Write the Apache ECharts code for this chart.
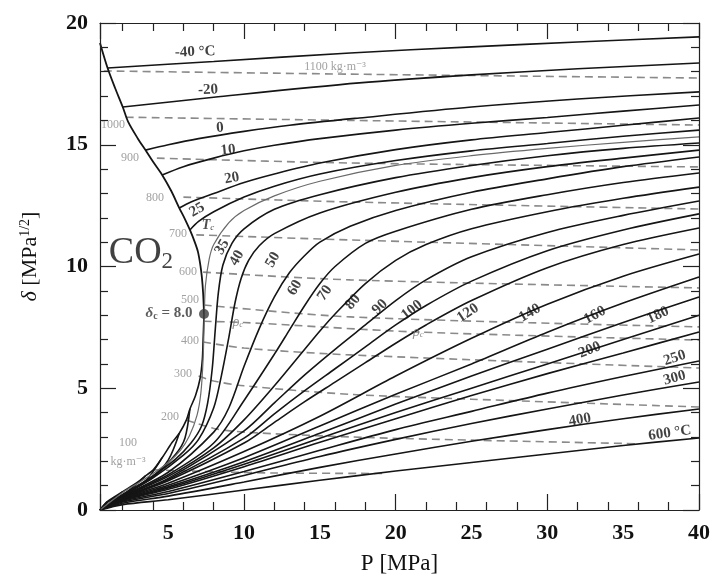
<!DOCTYPE html>
<html>
<head>
<meta charset="utf-8">
<title>CO2 solubility parameter</title>
<script src="https://cdn.jsdelivr.net/npm/echarts@6/dist/echarts.min.js"></script>
<style>
    html, body { margin: 0; padding: 0; background: #fff; }
    #main { width: 713px; height: 581px; }
</style>
</head>
<body>
<div id="main"></div>
<script>
// pressure axis labels
var xLabels = [5, 10, 15, 20, 25, 30, 35, 40];

// saturation curve  [P MPa, delta MPa^1/2]
var satLiquid = [[0.5, 19.18], [1.0, 18.15], [1.5, 17.32], [2.0, 16.55], [2.35, 15.95], [3.0, 15.25],
    [3.5, 14.78], [4.0, 14.3], [4.6, 13.76], [5.2, 13.1], [5.73, 12.4], [6.1, 11.95], [6.43, 11.5],
    [6.75, 11.0], [6.96, 10.6], [7.12, 10.05], [7.22, 9.55], [7.3, 8.9], [7.36, 8.05]];
var satVapor = [[0.5, 0], [1.0, 0.35], [2.0, 0.75], [3.0, 1.15], [3.5, 1.4], [4.0, 1.64], [4.6, 2.15],
    [5.25, 2.77], [5.73, 3.15], [6.2, 3.7], [6.43, 4.15], [6.8, 4.7], [7.1, 5.4], [7.25, 6.2],
    [7.3, 7.0], [7.36, 8.05]];
var critPoint = [[7.36, 8.05]];

// isotherms below Tc: vapour branch and liquid branch
var vapM40 = [[0.5, 0], [0.75, 0.18], [1.0, 0.35]];
var vapM20 = [[0.5, 0], [1.0, 0.32], [1.5, 0.52], [2.0, 0.75]];
var vap0 = [[0.5, 0], [1.5, 0.45], [2.5, 0.85], [3.5, 1.4]];
var vap10 = [[0.5, 0], [2.0, 0.6], [3.5, 1.2], [4.6, 2.15]];
var vap20 = [[0.5, 0], [2.0, 0.6], [4.0, 1.4], [5.0, 2.05], [5.73, 3.15]];
var vap25 = [[0.5, 0], [2.0, 0.58], [4.0, 1.35], [5.5, 2.3], [6.1, 2.95], [6.43, 4.15]];

var liqM40 = [[1.0, 18.15], [8, 18.42], [17, 18.77], [25, 19.02], [32, 19.22], [40, 19.43]];
var liqM20 = [[2.0, 16.55], [8, 16.95], [17.6, 17.54], [25, 17.87], [32, 18.12], [40, 18.36]];
var liq0 = [[3.5, 14.78], [5, 15.0], [7, 15.25], [10, 15.55], [13, 15.8], [17.6, 16.1], [25, 16.55], [32, 16.88], [40, 17.17]];
var liq10 = [[4.6, 13.76], [6, 14.1], [8, 14.45], [10, 14.75], [12, 14.98], [15, 15.25], [20, 15.6], [25, 15.88], [30, 16.12], [35, 16.38], [40, 16.63]];
var liq20 = [[5.73, 12.4], [6.5, 12.65], [8, 13.0], [10, 13.45], [12, 13.8], [15, 14.25], [20, 14.8], [25, 15.2], [30, 15.5], [35, 15.8], [40, 16.1]];
var liq25 = [[6.43, 11.5], [7, 11.85], [8, 12.25], [10, 12.85], [12, 13.3], [15, 13.8], [20, 14.35], [25, 14.75], [30, 15.05], [35, 15.35], [40, 15.6]];

// critical isotherm (grey)
var isoTc = [[0.5, 0], [2, 0.72], [3, 1.1], [4, 1.5], [5, 1.95], [5.8, 2.45], [6.4, 3.05], [6.9, 3.9],
    [7.15, 4.8], [7.3, 6.2], [7.38, 8.0], [7.45, 9.2], [7.7, 10.3], [8, 10.9], [9, 11.8], [10, 12.3],
    [12, 12.9], [15, 13.5], [20, 14.15], [25, 14.55], [30, 14.85], [35, 15.1], [40, 15.32]];

// supercritical isotherms
var iso35 = [[0.5, 0], [2, 0.62], [4, 1.4], [5.5, 2.1], [6.5, 2.75], [7.2, 3.45], [7.6, 4.4], [7.9, 5.8], [8.1, 7.4], [8.3, 8.9], [8.6, 10.05], [9.2, 10.95], [10, 11.55], [12, 12.35], [15, 12.95], [20, 13.65], [25, 14.15], [30, 14.55], [35, 14.85], [40, 15.07]];
var iso40 = [[0.5, 0], [2, 0.6], [4, 1.32], [6, 2.25], [7, 2.9], [8, 4.2], [8.5, 5.5], [9.0, 7.1], [9.4, 8.5], [9.8, 9.5], [10.3, 10.25], [11, 10.85], [12, 11.35], [15, 12.2], [20, 13.05], [25, 13.65], [30, 14.1], [35, 14.45], [40, 14.78]];
var iso50 = [[0.5, 0], [2, 0.57], [5, 1.55], [8, 3.2], [9, 4.2], [10, 5.9], [11, 7.45], [12, 8.75], [13, 9.75], [14, 10.45], [15, 11.0], [17, 11.65], [20, 12.3], [25, 13.05], [30, 13.6], [35, 14.1], [40, 14.5]];
var iso60 = [[0.5, 0], [2, 0.55], [5, 1.45], [8, 2.75], [10, 4.5], [12, 6.4], [13, 7.4], [14, 8.4], [15, 9.3], [16, 10.0], [18, 10.95], [20, 11.45], [25, 12.35], [30, 12.95], [35, 13.45], [40, 13.84]];
var iso70 = [[0.5, 0], [2, 0.53], [5, 1.38], [8, 2.55], [10, 3.7], [12, 5.1], [14, 6.6], [15, 7.35], [16, 8.05], [18, 9.3], [20, 10.25], [22, 10.9], [25, 11.55], [30, 12.25], [35, 12.8], [40, 13.26]];
var iso80 = [[0.5, 0], [2, 0.52], [5, 1.3], [10, 3.25], [12, 4.4], [14, 5.55], [16, 6.6], [18, 7.6], [20, 8.6], [22, 9.45], [25, 10.4], [30, 11.4], [35, 12.1], [40, 12.69]];
var iso90 = [[0.5, 0], [2, 0.5], [5, 1.25], [10, 2.95], [12, 3.95], [14, 4.9], [16, 5.8], [18, 6.7], [20, 7.6], [22, 8.4], [25, 9.4], [30, 10.65], [35, 11.5], [40, 12.16]];
var iso100 = [[0.5, 0], [2, 0.49], [5, 1.2], [10, 2.75], [12, 3.6], [14, 4.45], [16, 5.25], [18, 6.05], [20, 6.85], [22, 7.6], [25, 8.6], [30, 9.95], [35, 10.9], [40, 11.58]];
var iso120 = [[0.5, 0], [2, 0.47], [5, 1.1], [10, 2.4], [15, 3.85], [20, 5.5], [25, 7.05], [30, 8.45], [35, 9.6], [40, 10.51]];
var iso140 = [[0.5, 0], [2, 0.45], [5, 1.02], [10, 2.15], [15, 3.45], [20, 4.75], [25, 6.0], [30, 7.3], [35, 8.5], [40, 9.57]];
var iso160 = [[0.5, 0], [2, 0.43], [5, 0.95], [10, 1.98], [15, 3.15], [20, 4.35], [25, 5.5], [30, 6.6], [35, 7.7], [40, 8.75]];
var iso180 = [[0.5, 0], [2, 0.41], [5, 0.9], [10, 1.88], [15, 2.95], [20, 4.0], [25, 5.0], [30, 6.0], [35, 7.0], [40, 8.0]];
var iso200 = [[0.5, 0], [2, 0.39], [5, 0.85], [10, 1.78], [15, 2.78], [20, 3.75], [25, 4.7], [30, 5.6], [35, 6.45], [40, 7.31]];
var iso250 = [[0.5, 0], [2, 0.36], [5, 0.76], [10, 1.58], [15, 2.45], [20, 3.3], [25, 4.05], [30, 4.8], [35, 5.48], [40, 6.12]];
var iso300 = [[0.5, 0], [2, 0.33], [5, 0.68], [10, 1.42], [15, 2.2], [20, 2.9], [25, 3.55], [30, 4.15], [35, 4.72], [40, 5.26]];
var iso400 = [[0.5, 0], [2, 0.28], [5, 0.57], [10, 1.15], [15, 1.75], [20, 2.3], [25, 2.82], [30, 3.3], [35, 3.75], [40, 4.15]];
var iso600 = [[0.5, 0], [2, 0.22], [5, 0.42], [10, 0.82], [15, 1.22], [20, 1.6], [25, 1.95], [30, 2.3], [35, 2.65], [40, 2.96]];

// isochores (dashed), kg/m3
var rho1100 = [[0.75, 18.03], [17, 17.9], [40, 17.74]];
var rho1000 = [[2.2, 16.13], [17, 16.0], [40, 15.81]];
var rho900 = [[4.25, 14.45], [17, 14.25], [40, 14.09]];
var rho800 = [[6.0, 12.85], [17, 12.65], [40, 12.36]];
var rho700 = [[6.85, 11.3], [17, 11.09], [40, 10.68]];
var rho600 = [[7.3, 9.77], [17, 9.45], [40, 9.12]];
var rho500 = [[7.35, 8.42], [17, 7.93], [40, 7.52]];
var rhoCrit = [[7.34, 7.75], [10, 7.7], [21.4, 7.31], [40, 6.98]];
var rho400 = [[7.3, 6.9], [10, 6.65], [17, 6.37], [40, 5.83]];
var rho300 = [[7.0, 5.5], [8, 5.3], [10, 5.1], [17, 4.75], [25, 4.55], [40, 4.23]];
var rho200 = [[6.2, 3.7], [8, 3.35], [10, 3.2], [17, 3.0], [25, 2.87], [36, 2.72]];
var rho100 = [[4.0, 1.65], [8, 1.57], [12, 1.52], [19.3, 1.5]];

// curve labels: text, P, delta, rotation
var isothermLabels = [
    ['-40 °C', 6.77, 18.81, 2], ['-20', 7.62, 17.25, 3], ['0', 8.41, 15.69, 4],
    ['10', 8.94, 14.78, 6], ['20', 9.2, 13.63, 10], ['25', 6.9, 12.32, 30],
    ['35', 8.55, 10.8, 60], ['40', 9.53, 10.35, 60], ['50', 11.9, 10.27, 60],
    ['60', 13.35, 9.12, 60], ['70', 15.33, 8.91, 55], ['80', 17.18, 8.54, 50],
    ['90', 18.96, 8.34, 45], ['100', 21.07, 8.21, 38], ['120', 24.76, 8.09, 33],
    ['140', 28.85, 8.09, 30], ['160', 33.13, 8.0, 28], ['180', 37.3, 8.0, 25],
    ['200', 32.8, 6.57, 22], ['250', 38.4, 6.24, 18], ['300', 38.4, 5.42, 15],
    ['400', 32.14, 3.7, 10], ['600 °C', 38.08, 3.16, 8]
];
var densityLabels = [
    ['1100 kg·m⁻³', 16.0, 18.19], ['1000', 1.36, 15.81], ['900', 2.48, 14.46],
    ['800', 4.13, 12.81], ['700', 5.64, 11.33], ['600', 6.3, 9.77], ['500', 6.43, 8.62],
    ['400', 6.43, 6.94], ['300', 5.97, 5.59], ['200', 5.11, 3.82], ['100', 2.35, 2.75],
    ['kg·m⁻³', 2.35, 1.97]
];
var rhoCritLabels = [[9.6, 7.72], [21.5, 7.31]];

var SERIF = '"Liberation Serif", "DejaVu Serif", serif';

function curve(data, color, width, dashed) {
    return {
        type: 'line',
        data: data,
        showSymbol: false,
        smooth: 0.3,
        silent: true,
        lineStyle: { color: color, width: width, type: dashed ? [8, 5] : 'solid' },
        z: dashed ? 2 : 3
    };
}

function textPoint(value, text, rotate, style) {
    return {
        value: value,
        label: Object.assign({ show: true, position: 'inside', formatter: text, rotate: rotate || 0 }, style)
    };
}

// frame axis: inside major + minor ticks, labels only where asked
function pAxis(pos, withLabels) {
    var tickStyle = { color: '#222', width: 1.2 };
    return {
        type: 'value', min: 0.5, max: 40, position: pos, z: 10,
        axisLine: { show: true, onZero: false, lineStyle: tickStyle },
        axisTick: { show: true, inside: true, length: 16, lineStyle: tickStyle },
        minorTick: { show: true, splitNumber: 5, length: 8, lineStyle: tickStyle },
        axisLabel: {
            show: withLabels, customValues: xLabels, margin: 12,
            fontFamily: SERIF, fontWeight: 'bold', fontSize: 22, color: '#111'
        },
        splitLine: { show: false },
        name: withLabels ? 'P [MPa]' : '',
        nameLocation: 'middle', nameGap: 42,
        nameTextStyle: { fontFamily: SERIF, fontSize: 23, color: '#111' }
    };
}

function deltaAxis(pos, withLabels) {
    var tickStyle = { color: '#222', width: 1.2 };
    return {
        type: 'value', min: 0, max: 20, interval: 5, position: pos, z: 10,
        axisLine: { show: true, onZero: false, lineStyle: tickStyle },
        axisTick: { show: true, inside: true, length: 16, lineStyle: tickStyle },
        minorTick: { show: true, splitNumber: 5, length: 8, lineStyle: tickStyle },
        axisLabel: { show: withLabels, margin: 12, fontFamily: SERIF, fontWeight: 'bold', fontSize: 22, color: '#111' },
        splitLine: { show: false },
        name: withLabels ? '{i|δ} [MPa{sup|1/2}]' : '',
        nameLocation: 'middle', nameGap: 58, nameRotate: 90,
        nameTextStyle: {
            fontFamily: SERIF, fontSize: 22, color: '#111', padding: [0, 0, 0, 20],
            rich: {
                i: { fontFamily: SERIF, fontStyle: 'italic', fontSize: 22, color: '#111' },
                sup: { fontFamily: SERIF, fontSize: 14, color: '#111', padding: [0, 0, 10, 0] }
            }
        }
    };
}

function initChart() {
    var myChart = echarts.init(document.getElementById('main'));

    var black = '#151515';
    var series = [];

    // isochores
    [rho1100, rho1000, rho900, rho800, rho700, rho600, rho500, rhoCrit, rho400, rho300, rho200, rho100]
        .forEach(function (d) { series.push(curve(d, '#8a8a8a', 1.6, true)); });

    // saturation curve
    series.push(curve(satLiquid, black, 1.8));
    series.push(curve(satVapor, black, 1.6));

    // isotherms
    [vapM40, vapM20, vap0, vap10, vap20, vap25, liqM40, liqM20, liq0, liq10, liq20, liq25,
        iso35, iso40, iso50, iso60, iso70, iso80, iso90, iso100, iso120, iso140, iso160, iso180,
        iso200, iso250, iso300, iso400, iso600]
        .forEach(function (d) { series.push(curve(d, black, 1.6)); });
    series.push(curve(isoTc, '#6a6a6a', 1.2));

    // critical point
    series.push({
        type: 'scatter', data: critPoint, symbolSize: 10, silent: true, z: 5,
        itemStyle: { color: '#3a3a3a' }
    });

    // text annotations
    var texts = [];
    isothermLabels.forEach(function (l) {
        texts.push(textPoint([l[1], l[2]], l[0], l[3], {
            fontFamily: SERIF, fontWeight: 'bold', fontSize: 15, color: '#111'
        }));
    });
    densityLabels.forEach(function (l) {
        texts.push(textPoint([l[1], l[2]], l[0], 0, {
            fontFamily: SERIF, fontSize: 12, color: '#8a8a8a'
        }));
    });
    rhoCritLabels.forEach(function (l) {
        texts.push(textPoint(l, '{i|ρ}{s|c}', 0, {
            rich: {
                i: { fontFamily: SERIF, fontStyle: 'italic', fontSize: 14, color: '#777' },
                s: { fontFamily: SERIF, fontStyle: 'italic', fontSize: 9, color: '#777', padding: [6, 0, 0, 0] }
            }
        }));
    });
    texts.push(textPoint([7.62, 11.7], '{i|T}{s|c}', 0, {
        rich: {
            i: { fontFamily: SERIF, fontStyle: 'italic', fontWeight: 'bold', fontSize: 14, color: '#222' },
            s: { fontFamily: SERIF, fontStyle: 'italic', fontSize: 9, color: '#222', padding: [6, 0, 0, 0] }
        }
    }));
    texts.push(textPoint([3.2, 10.55], '{b|CO}{s|2}', 0, {
        rich: {
            b: { fontFamily: SERIF, fontSize: 38, color: '#111' },
            s: { fontFamily: SERIF, fontSize: 23, color: '#111', padding: [17, 0, 0, 0] }
        }
    }));
    texts.push(textPoint([5.05, 8.09], '{i|δ}{s|c}{b| = 8.0}', 0, {
        rich: {
            i: { fontFamily: SERIF, fontStyle: 'italic', fontWeight: 'bold', fontSize: 15, color: '#333' },
            s: { fontFamily: SERIF, fontWeight: 'bold', fontSize: 10, color: '#333', padding: [6, 0, 0, 0] },
            b: { fontFamily: SERIF, fontWeight: 'bold', fontSize: 15, color: '#333' }
        }
    }));
    series.push({
        type: 'scatter', data: texts, symbolSize: 1, silent: true, z: 6,
        itemStyle: { color: 'rgba(0,0,0,0)' }
    });

    var option = {
        animation: false,
        backgroundColor: '#fff',
        grid: { left: 100, right: 14, top: 23, bottom: 71 },
        xAxis: [pAxis('bottom', true), pAxis('top', false)],
        yAxis: [deltaAxis('left', true), deltaAxis('right', false)],
        series: series
    };
    myChart.setOption(option);
}

initChart();
</script>
</body>
</html>
